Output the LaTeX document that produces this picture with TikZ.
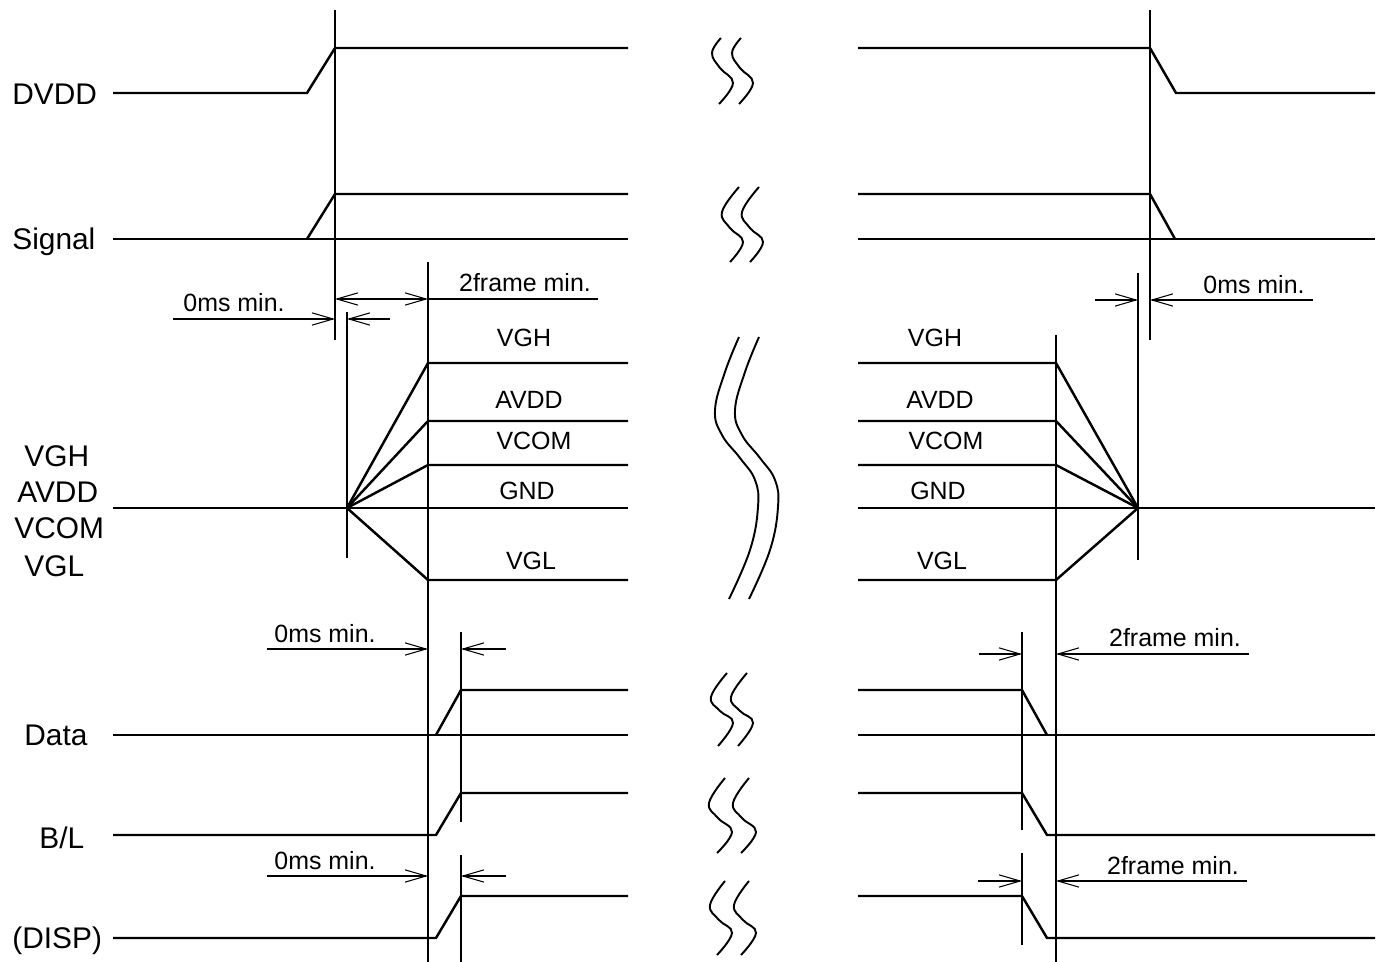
\documentclass[tikz,border=0pt]{standalone}
\usepackage{fontspec}
\setmainfont{Liberation Sans}
\usetikzlibrary{arrows.meta}
\begin{document}
\begin{tikzpicture}[x=0.02cm,y=-0.02cm,
  wave/.style={line width=1.4pt, line join=miter},
  guide/.style={line width=0.8pt},
  dim/.style={line width=0.6pt},
  tipend/.style={-{Straight Barb[length=12pt,width=7pt,line width=0.6pt]}},
  tipboth/.style={{Straight Barb[length=12pt,width=7pt,line width=0.6pt]}-{Straight Barb[length=12pt,width=7pt,line width=0.6pt]}},
  big/.style={font=\fontsize{17}{20}\selectfont, inner sep=0pt, anchor=base west},
  small/.style={font=\fontsize{14.2}{17}\selectfont, inner sep=0pt, anchor=base},
  brk/.style={line width=1.1pt}]
\useasboundingbox (0,0) rectangle (1384,962);

% ---------- left labels
\node[big] (lDVDD) at (12,105) {DVDD};
\node[big] (lSig) at (12,250) {Signal};
\node[big] (lVGH) at (24,467) {VGH};
\node[big] (lAVDD) at (17,503) {AVDD};
\node[big] (lVCOM) at (14,539) {VCOM};
\node[big] (lVGL) at (24,577) {VGL};
\node[big] (lData) at (24,746) {Data};
\node[big] (lBL) at (39,849) {B/L};
\node[big] (lDISP) at (12,949) {(DISP)};

% ---------- guide lines
\coordinate (gA1) at (335,10);   \coordinate (gA2) at (335,340);
\coordinate (gB1) at (347,312);  \coordinate (gB2) at (347,558);
\coordinate (gC1) at (428,262);  \coordinate (gC2) at (428,962);
\coordinate (gD1) at (461,632);  \coordinate (gD2) at (461,822);
\coordinate (gE1) at (461,855);  \coordinate (gE2) at (461,962);
\coordinate (gF1) at (1150,10);  \coordinate (gF2) at (1150,340);
\coordinate (gG1) at (1138,273); \coordinate (gG2) at (1138,560);
\coordinate (gH1) at (1056,335); \coordinate (gH2) at (1056,962);
\coordinate (gI1) at (1022,632); \coordinate (gI2) at (1022,830);
\coordinate (gJ1) at (1022,853); \coordinate (gJ2) at (1022,945);
\foreach \g in {A,B,C,D,E,F,G,H,I,J} \draw[guide] (g\g1) -- (g\g2);

% ---------- waveforms left
\draw[wave] (113,93) -- (307,93) -- (335,48) -- (628,48);
\draw[wave] (113,239) -- (628,239);
\draw[wave] (307,239) -- (335,194) -- (628,194);
\draw[wave] (113,508) -- (628,508);
\foreach \yy in {363,421,465,580} \draw[wave] (347,508) -- (428,\yy) -- (628,\yy);
\draw[wave] (113,735) -- (628,735);
\draw[wave] (436,735) -- (461,690) -- (628,690);
\draw[wave] (113,835) -- (436,835) -- (461,793) -- (628,793);
\draw[wave] (113,938) -- (436,938) -- (461,896) -- (628,896);

% ---------- waveforms right
\draw[wave] (858,48) -- (1150,48) -- (1176,93) -- (1375,93);
\draw[wave] (858,194) -- (1150,194) -- (1175,239);
\draw[wave] (858,239) -- (1375,239);
\foreach \yy in {363,421,465,580} \draw[wave] (858,\yy) -- (1056,\yy) -- (1138,508);
\draw[wave] (858,508) -- (1375,508);
\draw[wave] (858,690) -- (1022,690) -- (1047,735);
\draw[wave] (858,735) -- (1375,735);
\draw[wave] (858,793) -- (1022,793) -- (1047,835) -- (1375,835);
\draw[wave] (858,896) -- (1022,896) -- (1047,938) -- (1375,938);

% ---------- level labels
\node[small] (tVGHl) at (524,347) {VGH};
\node[small] (tAVDDl) at (529,409) {AVDD};
\node[small] (tVCOMl) at (534,450) {VCOM};
\node[small] (tGNDl) at (527,500) {GND};
\node[small] (tVGLl) at (531,570) {VGL};
\node[small] (tVGHr) at (935,347) {VGH};
\node[small] (tAVDDr) at (940,409) {AVDD};
\node[small] (tVCOMr) at (946,450) {VCOM};
\node[small] (tGNDr) at (938,500) {GND};
\node[small] (tVGLr) at (942,570) {VGL};

% ---------- dimensions
\node[small] (d1) at (234,312) {0ms min.};
\draw[dim,tipend] (173,319) -- (335,319);
\draw[dim,tipend] (390,319) -- (347,319);

\node[small] (d2) at (525,292) {2frame min.};
\draw[dim,tipboth] (335,299) -- (428,299);
\draw[dim] (428,299) -- (598,299);

\node[small] (d3) at (1254,294) {0ms min.};
\draw[dim,tipend] (1095,300) -- (1138,300);
\draw[dim,tipend] (1313,300) -- (1150,300);

\node[small] (d4) at (325,643) {0ms min.};
\draw[dim,tipend] (267,649) -- (428,649);
\draw[dim,tipend] (506,649) -- (461,649);

\node[small] (d5) at (1175,647) {2frame min.};
\draw[dim,tipend] (979,654) -- (1022,654);
\draw[dim,tipend] (1249,654) -- (1056,654);

\node[small] (d6) at (325,869) {0ms min.};
\draw[dim,tipend] (267,876) -- (428,876);
\draw[dim,tipend] (506,876) -- (461,876);

\node[small] (d7) at (1173,875) {2frame min.};
\draw[dim,tipend] (978,881) -- (1022,881);
\draw[dim,tipend] (1247,881) -- (1056,881);

% ---------- break symbols
\foreach \d in {0,20} {
  \draw[brk,xshift=\d*0.02cm] plot[smooth,tension=0.7] coordinates {(721,38) (712,53) (720,68) (733,83) (719,104)};
  \draw[brk,xshift=\d*0.02cm] plot[smooth,tension=0.7] coordinates {(739,187) (722,212) (730,228) (743,242) (730,262)};
  \draw[brk,xshift=\d*0.02cm] plot[smooth,tension=0.7] coordinates {(727,673) (711,697) (720,711) (733,723) (718,746)};
  \draw[brk,xshift=\d*0.02cm] plot[smooth,tension=0.7] coordinates {(739,337) (725,372) (715,410) (722,435) (740,458) (755,480) (758,507) (750,550) (729,599)};
}
\foreach \d in {0,24} {
  \draw[brk,xshift=\d*0.02cm] plot[smooth,tension=0.7] coordinates {(725,778) (709,803) (718,818) (732,832) (717,853)};
  \draw[brk,xshift=\d*0.02cm] plot[smooth,tension=0.7] coordinates {(725,881) (710,905) (719,920) (732,933) (717,955)};
}
\end{tikzpicture}
\end{document}
